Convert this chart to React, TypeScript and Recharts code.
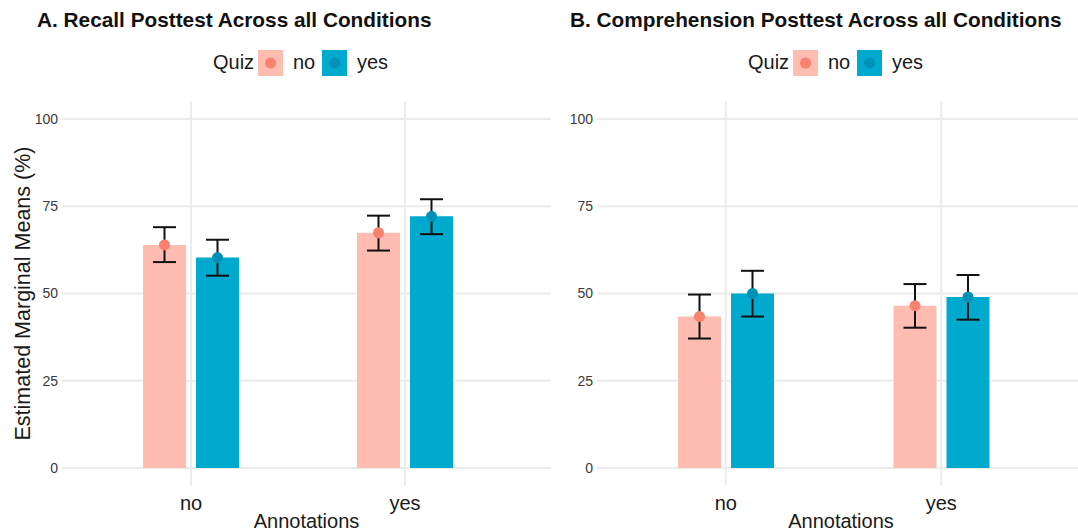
import React from 'react';
import { BarChart, Bar, XAxis, YAxis, CartesianGrid, ErrorBar, LabelList } from 'recharts';

const annotations = ['no', 'yes'];

// Recall posttest: estimated marginal means with 95% CI
const recallQuizNo = [63.9, 67.4];
const recallQuizNoLower = [59.0, 62.3];
const recallQuizNoUpper = [69.0, 72.3];
const recallQuizYes = [60.3, 72.1];
const recallQuizYesLower = [55.1, 67.0];
const recallQuizYesUpper = [65.4, 77.0];

// Comprehension posttest
const compQuizNo = [43.4, 46.5];
const compQuizNoLower = [37.1, 40.2];
const compQuizNoUpper = [49.7, 52.7];
const compQuizYes = [50.0, 49.0];
const compQuizYesLower = [43.4, 42.5];
const compQuizYesUpper = [56.5, 55.3];

const yTicks = [0, 25, 50, 75, 100];
const yMinorTicks = [12.5, 37.5, 62.5, 87.5];

const quizLevels = [
    { key: 'no', bar: '#FFBDB2', dot: '#F98170' },
    { key: 'yes', bar: '#00A9CE', dot: '#0091B8' },
];

const FONT = '"Liberation Sans", Arial, sans-serif';

function buildRows(noVals, noLo, noHi, yesVals, yesLo, yesHi) {
    return annotations.map((a, i) => ({
        annot: a,
        no: noVals[i],
        noErr: [noVals[i] - noLo[i], noHi[i] - noVals[i]],
        yes: yesVals[i],
        yesErr: [yesVals[i] - yesLo[i], yesHi[i] - yesVals[i]],
    }));
}

const recallRows = buildRows(recallQuizNo, recallQuizNoLower, recallQuizNoUpper, recallQuizYes, recallQuizYesLower, recallQuizYesUpper);
const compRows = buildRows(compQuizNo, compQuizNoLower, compQuizNoUpper, compQuizYes, compQuizYesLower, compQuizYesUpper);

// point estimate drawn on top of each bar
const meanDot = (color) => (props) => {
    const vb = props.viewBox ?? props;
    if (vb == null || vb.x == null) return null;
    return <circle cx={vb.x + vb.width / 2} cy={vb.y} r={5.5} fill={color} />;
};

function YTitle({ viewBox }) {
    const cy = viewBox ? viewBox.y + viewBox.height / 2 : 293.5;
    return (
        <text
            x={30}
            y={cy}
            transform={`rotate(-90 30 ${cy})`}
            textAnchor="middle"
            fontSize={21.5}
            fill="#1a1a1a"
            fontFamily={FONT}
        >
            Estimated Marginal Means (%)
        </text>
    );
}

function QuizLegend({ left }) {
    const offsets = [45, 109];
    const labelOffsets = [80, 144];
    return (
        <svg style={{ position: 'absolute', left, top: 48, overflow: 'visible' }} width={180} height={30}>
            <text x={0} y={21} fontSize={20} fill="#1a1a1a" fontFamily={FONT}>Quiz</text>
            {quizLevels.map((q, i) => (
                <g key={q.key}>
                    <rect x={offsets[i]} y={2} width={25} height={26} fill={q.bar} />
                    <circle cx={offsets[i] + 12.5} cy={15} r={5.5} fill={q.dot} />
                    <text x={labelOffsets[i]} y={21} fontSize={20} fill="#1a1a1a" fontFamily={FONT}>{q.key}</text>
                </g>
            ))}
        </svg>
    );
}

function Panel({ title, titleX, data, left, width, yAxisWidth, padding, showYLabel, legendX }) {
    return (
        <>
            <div style={{ position: 'absolute', left, top: 0 }}>
                <BarChart
                    width={width}
                    height={531}
                    data={data}
                    margin={{ top: 101.5, right: 0, bottom: 0, left: 0 }}
                    barSize={43}
                    barGap={10}
                >
                    {/* minor grid comes from a hidden axis carrying the in-between ticks */}
                    <CartesianGrid yAxisId="minor" vertical={false} syncWithTicks stroke="#EFEFEF" strokeWidth={1.2} />
                    <CartesianGrid syncWithTicks stroke="#EBEBEB" strokeWidth={1.9} />
                    <XAxis
                        dataKey="annot"
                        height={45.5}
                        padding={padding}
                        axisLine={false}
                        tickLine={false}
                        tickSize={0}
                        tickMargin={10}
                        tick={{ fill: '#1a1a1a', fontSize: 20, fontFamily: FONT }}
                        label={{ value: 'Annotations', position: 'insideBottom', offset: 3, fill: '#1a1a1a', fontSize: 20, fontFamily: FONT }}
                    />
                    <YAxis
                        width={yAxisWidth}
                        domain={[-5, 105]}
                        ticks={yTicks}
                        axisLine={false}
                        tickLine={false}
                        tickSize={0}
                        tickMargin={4}
                        tick={{ fill: '#3A3A3A', fontSize: 14, fontFamily: FONT }}
                        label={showYLabel ? { value: 'Estimated Marginal Means (%)', content: (p) => <YTitle {...p} /> } : undefined}
                    />
                    <YAxis yAxisId="minor" hide width={0} domain={[-5, 105]} ticks={yMinorTicks} />
                    {quizLevels.map(q => (
                        <Bar key={q.key} dataKey={q.key} fill={q.bar} isAnimationActive={false}>
                            <ErrorBar dataKey={`${q.key}Err`} width={11.5} strokeWidth={2} stroke="#111" direction="y" />
                            <LabelList dataKey={q.key} content={meanDot(q.dot)} />
                        </Bar>
                    ))}
                </BarChart>
            </div>
            <svg style={{ position: 'absolute', left: titleX, top: 0, overflow: 'visible' }} width={10} height={10}>
                <text x={0} y={27} fontSize={20.8} fontWeight="bold" fill="#111" fontFamily={FONT}>{title}</text>
            </svg>
            <QuizLegend left={legendX} />
        </>
    );
}

export default function App() {
    return (
        <div
            style={{
                position: 'absolute',
                left: 0,
                top: 0,
                width: 1078,
                height: 531,
                overflow: 'hidden',
                background: '#fff',
            }}
        >
            <Panel
                title="A. Recall Posttest Across all Conditions"
                titleX={37}
                data={recallRows}
                left={0}
                width={551}
                yAxisWidth={62}
                padding={{ left: 22, right: 39 }}
                showYLabel
                legendX={213}
            />
            <Panel
                title="B. Comprehension Posttest Across all Conditions"
                titleX={570}
                data={compRows}
                left={540}
                width={545}
                yAxisWidth={57}
                padding={{ left: 21, right: 36 }}
                showYLabel={false}
                legendX={748}
            />
        </div>
    );
}
